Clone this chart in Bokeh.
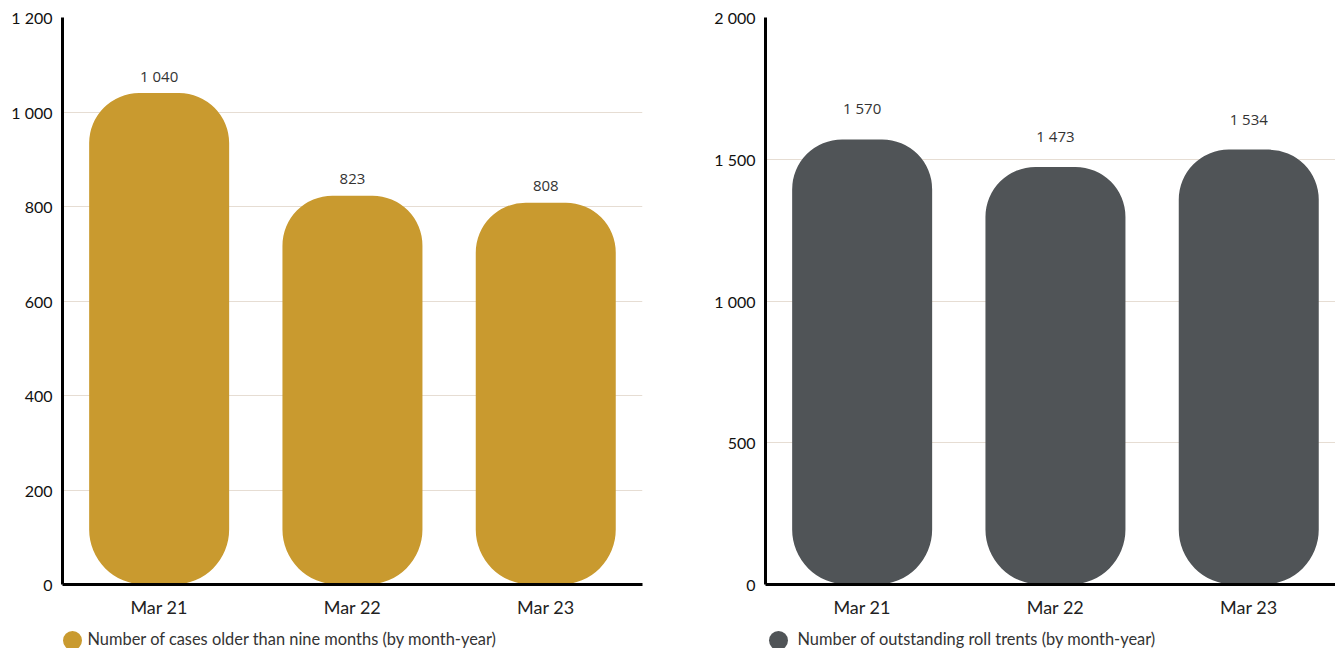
from bokeh.plotting import figure
from bokeh.layouts import row, column
from bokeh.models import ColumnDataSource, Range1d, FixedTicker
from bokeh.core.properties import value
from bokeh.embed import file_html
from bokeh.resources import INLINE

# ---- data ----
categories = ["Mar 21", "Mar 22", "Mar 23"]
cases_older_nine_months = [1040, 823, 808]
outstanding_roll_trents = [1570, 1473, 1534]

left_ticks = [0, 200, 400, 600, 800, 1000, 1200]
left_tick_labels = ["0", "200", "400", "600", "800", "1 000", "1 200"]
right_ticks = [0, 500, 1000, 1500, 2000]
right_tick_labels = ["0", "500", "1 000", "1 500", "2 000"]

left_legend = "Number of cases older than nine months (by month-year)"
right_legend = "Number of outstanding roll trents (by month-year)"

GOLD = "#C99A2F"
GREY = "#505457"
GRID = "#E6DDD3"

UNIT_PX = 193.3  # pixel width of one category slot
STRIP_H = 28


def fmt(v):
    return f"{v:,}".replace(",", " ")


def make_chart(values, ticks, tick_labels, ymax, color, legend_text,
               width, border_left, border_right, label_offset, legend_x, legend_gap):
    frame_w = width - border_left - border_right
    xs = [i + 0.5 for i in range(len(categories))]
    src = ColumnDataSource(dict(x=xs, top=values, label=[fmt(v) for v in values]))

    p = figure(width=width, height=648 - STRIP_H, output_backend="svg", toolbar_location=None,
               x_range=Range1d(0, frame_w / UNIT_PX), y_range=Range1d(0, ymax),
               min_border_left=border_left, min_border_right=border_right,
               min_border_top=17, min_border_bottom=36)
    p.outline_line_color = None
    p.background_fill_color = "white"
    p.border_fill_color = "white"

    p.vbar(x="x", top="top", bottom=0, width=140 / UNIT_PX, source=src,
           fill_color=color, line_color=None,
           border_radius=(50, 50, 55, 55))

    p.text(x="x", y="top", text="label", source=src, y_offset=-label_offset,
           text_align="center", text_baseline="middle",
           text_font=value("Open Sans"), text_font_size="15px", text_color="#333333")

    # axes
    p.xaxis.ticker = FixedTicker(ticks=xs)
    p.xaxis.major_label_overrides = {x: c for x, c in zip(xs, categories)}
    p.xaxis.axis_line_color = "black"
    p.xaxis.axis_line_width = 3
    p.xaxis.major_tick_line_color = None
    p.xaxis.minor_tick_line_color = None
    p.xaxis.major_label_text_font = "Lato"
    p.xaxis.major_label_text_font_size = "18px"
    p.xaxis.major_label_text_color = "#222222"
    p.xaxis.major_label_standoff = 5

    p.yaxis.ticker = FixedTicker(ticks=ticks)
    p.yaxis.major_label_overrides = {t: l for t, l in zip(ticks, tick_labels)}
    p.yaxis.axis_line_color = "black"
    p.yaxis.axis_line_width = 3
    p.yaxis.major_tick_line_color = None
    p.yaxis.minor_tick_line_color = None
    p.yaxis.major_label_text_font = "Lato"
    p.yaxis.major_label_text_font_size = "16px"
    p.yaxis.major_label_text_color = "#111111"
    p.yaxis.major_label_standoff = 4

    p.xgrid.grid_line_color = None
    p.ygrid.grid_line_color = GRID
    p.ygrid.grid_line_width = 1

    # legend strip below the chart (its frame is aligned with the chart frame)
    lg = figure(width=width, height=STRIP_H, output_backend="svg", toolbar_location=None,
                x_axis_type=None, y_axis_type=None, min_border=0,
                min_border_left=0, min_border_right=0,
                min_border_top=0, min_border_bottom=0,
                x_range=Range1d(0, frame_w), y_range=Range1d(0, STRIP_H))
    lg.outline_line_color = None
    lg.xgrid.grid_line_color = None
    lg.ygrid.grid_line_color = None
    leg_src = ColumnDataSource(dict(x=[legend_x], y=[8], label=[legend_text]))
    lg.scatter(x="x", y="y", source=leg_src, marker="circle", size=19,
               fill_color=color, line_color=None)
    lg.text(x="x", y="y", text="label", source=leg_src, x_offset=legend_gap, y_offset=-2,
            text_align="left", text_baseline="middle",
            text_font=value("Lato"), text_font_size="16.4px", text_color="#333333")
    return column(p, lg, spacing=0)


c1 = make_chart(cases_older_nine_months, left_ticks, left_tick_labels, 1200, GOLD,
                left_legend, 705, 62, 63, 17, 10, 15)
c2 = make_chart(outstanding_roll_trents, right_ticks, right_tick_labels, 2000, GREY,
                right_legend, 630, 60, 0, 31, 13, 19)

layout = row(c1, c2, spacing=0)
open("out.html", "w").write(file_html(layout, INLINE))
